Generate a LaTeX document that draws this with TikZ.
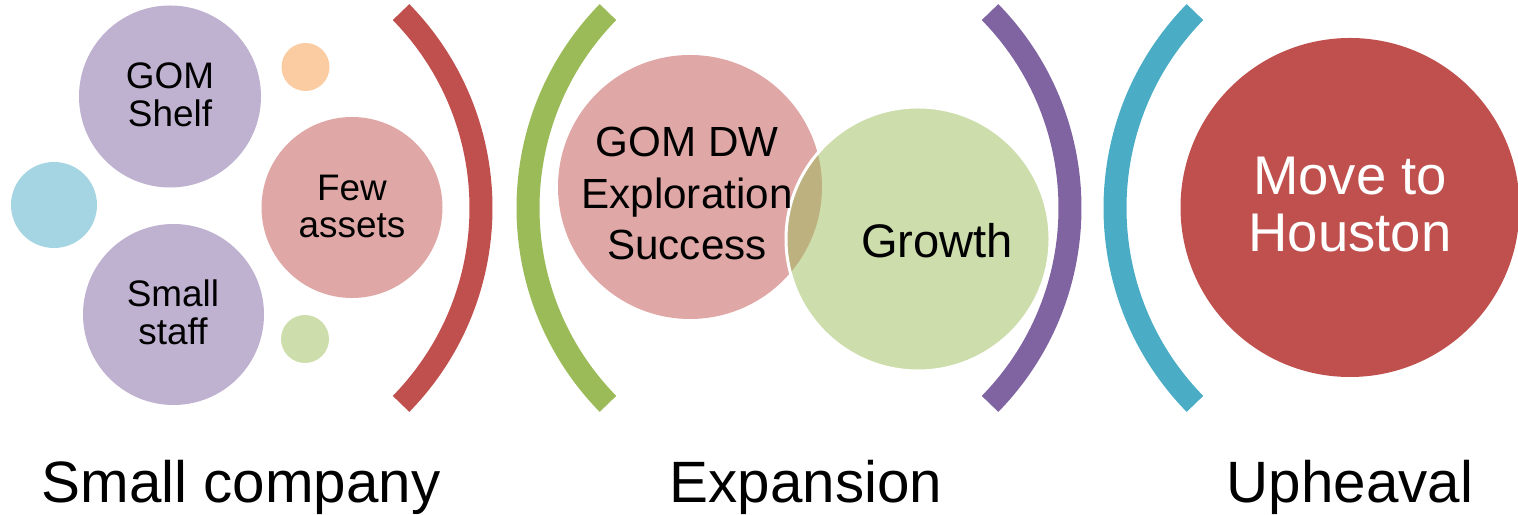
\documentclass[tikz,border=0pt]{standalone}
\usepackage{fontspec}
\setmainfont{Liberation Sans}

\definecolor{accred}{HTML}{C0504D}
\definecolor{accgreen}{HTML}{9BBB59}
\definecolor{accpurple}{HTML}{8064A2}
\definecolor{accblue}{HTML}{4BACC6}
\definecolor{accorange}{HTML}{F79646}

\tikzset{
  bracket/.style={line width=0.23cm},
  smalltxt/.style={align=center, font=\fontsize{10.5}{10.8}\selectfont},
  dwtxt/.style={align=center, font=\fontsize{12}{14.65}\selectfont},
  growtxt/.style={font=\fontsize{13.4}{15}\selectfont},
  movetxt/.style={align=center, text=white, font=\fontsize{15.5}{16.2}\selectfont},
  caption/.style={anchor=base, font=\fontsize{16.6}{18}\selectfont}
}

\begin{document}
\begin{tikzpicture}
  \useasboundingbox (0,0) rectangle (15.18,-5.15);

      \begin{scope}[every node/.style={circle,inner sep=0pt}]
        \node[fill=accpurple!50, minimum size=1.82cm] (shelf) at (1.70,-0.965) {};
        \node[fill=accpurple!50, minimum size=1.81cm] (staff) at (1.735,-3.145) {};
        \node[fill=accblue!50,   minimum size=0.86cm] (dotb)  at (0.54,-2.05)  {};
        \node[fill=accorange!50, minimum size=0.48cm] (doto)  at (3.055,-0.67) {};
        \node[fill=accgreen!50,  minimum size=0.48cm] (dotg)  at (3.05,-3.39)  {};
        \node[fill=accred!50,    minimum size=1.81cm] (few)   at (3.52,-2.075) {};
        \node[fill=accred!50,    minimum size=2.64cm] (dw)    at (6.90,-1.87)  {};
        \node[fill=accgreen, fill opacity=0.5, draw=white, line width=0.03cm,
              minimum size=2.64cm] (grow) at (9.18,-2.39) {};
        \node[fill=accred,       minimum size=3.39cm] (move)  at (13.50,-2.075) {};
      \end{scope}

      % brackets
      \draw[bracket, accred]    ([shift={(44.4:2.8)}]2.01,-2.08)   arc[start angle=44.4,  end angle=-44.4, radius=2.8];
      \draw[bracket, accgreen]  ([shift={(135.6:2.8)}]8.08,-2.08)  arc[start angle=135.6, end angle=224.4, radius=2.8];
      \draw[bracket, accpurple] ([shift={(44.4:2.8)}]7.90,-2.08)   arc[start angle=44.4,  end angle=-44.4, radius=2.8];
      \draw[bracket, accblue]   ([shift={(135.6:2.8)}]13.95,-2.08) arc[start angle=135.6, end angle=224.4, radius=2.8];

      \node[smalltxt] (shelftxt) at (1.70,-0.95)  {GOM\\Shelf};
      \node[smalltxt] (stafftxt) at (1.73,-3.125) {Small\\staff};
      \node[smalltxt] (fewtxt)   at (3.52,-2.065) {Few\\assets};
      \node[dwtxt]    (dwtxt)    at (6.87,-1.935) {GOM DW\\Exploration\\Success};
      \node[growtxt]  (growtxt)  at (9.37,-2.41)  {Growth};
      \node[movetxt]  (movetxt)  at (13.50,-2.045) {Move to\\Houston};

      \node[caption] (small)  at (2.41,-5.03)  {Small company};
      \node[caption] (expand) at (8.06,-5.03)  {Expansion};
      \node[caption] (upheav) at (13.50,-5.03) {Upheaval};

    \end{tikzpicture}
\end{document}
